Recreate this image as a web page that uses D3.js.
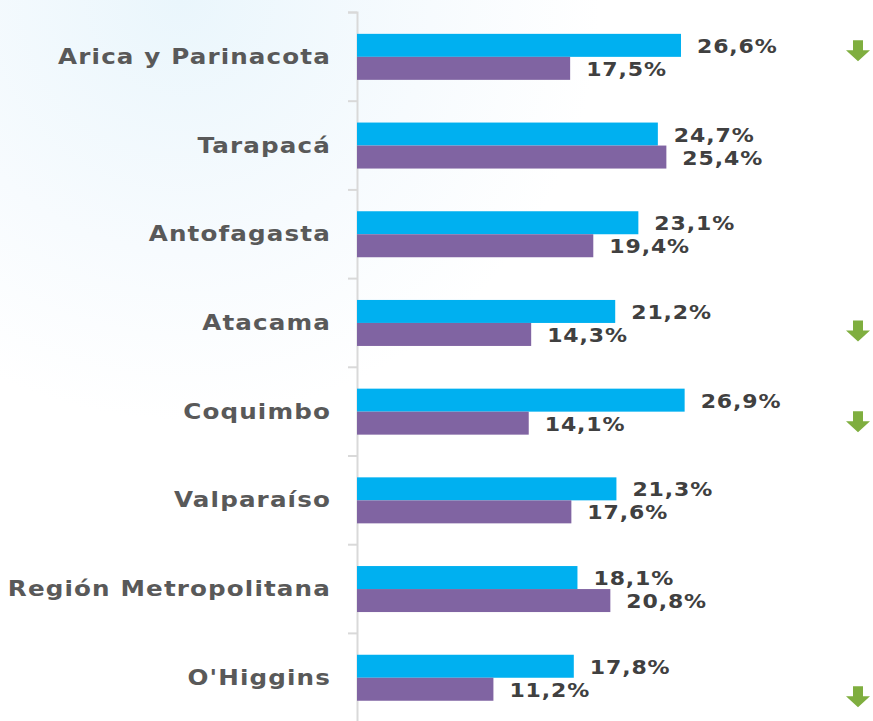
<!DOCTYPE html>
<html>
<head>
<meta charset="utf-8">
<script src="https://cdn.jsdelivr.net/npm/d3@7"></script>
<style>
  html, body { margin: 0; padding: 0; background: #fff; }
  svg { display: block; }
</style>
</head>
<body>
<svg id="chart" width="873" height="721"></svg>
<script>
const categories = ["Arica y Parinacota", "Tarapacá", "Antofagasta", "Atacama", "Coquimbo", "Valparaíso", "Región Metropolitana", "O'Higgins"];
const seriesA = [26.6, 24.7, 23.1, 21.2, 26.9, 21.3, 18.1, 17.8];
const seriesB = [17.5, 25.4, 19.4, 14.3, 14.1, 17.6, 20.8, 11.2];
const downArrow = [true, false, false, true, true, false, false, true];

const svg = d3.select("#chart");
const W = 873, H = 721;

// background glow
const defs = svg.append("defs");
const rg = defs.append("radialGradient").attr("id", "bg")
  .attr("gradientUnits", "userSpaceOnUse")
  .attr("cx", 180).attr("cy", 0).attr("r", 420);
rg.append("stop").attr("offset", "0%").attr("stop-color", "#eaf6fc");
rg.append("stop").attr("offset", "60%").attr("stop-color", "#f7fbfe");
rg.append("stop").attr("offset", "100%").attr("stop-color", "#ffffff");
svg.append("rect").attr("width", W).attr("height", H).attr("fill", "url(#bg)");

const x0 = 357;
const x = d3.scaleLinear().domain([0, 30]).range([x0, x0 + 30 * 12.18]);
const y = d3.scaleBand().domain(categories).range([12, 721.6]).paddingInner(0);
const bh = 23;

// axis
const yb = d3.scaleLinear().domain([0, categories.length]).range([12, 721.6]);
const axis = d3.axisLeft(yb).tickValues(d3.range(0, categories.length + 1)).tickSize(9).tickFormat("");
const ag = svg.append("g").attr("transform", `translate(${x0},0)`).call(axis);
ag.select(".domain").attr("stroke", "#d9d9d9").attr("stroke-width", 2);
ag.selectAll(".tick line").attr("stroke", "#d9d9d9").attr("stroke-width", 2);

const g = svg.append("g");
const rows = categories.map((c, i) => ({ c, a: seriesA[i], b: seriesB[i], arrow: downArrow[i], i }));

g.selectAll(".barA").data(rows).join("rect")
  .attr("x", x0).attr("y", d => y(d.c) + y.bandwidth() / 2 - bh + 0.5)
  .attr("width", d => x(d.a) - x0).attr("height", bh).attr("fill", "#00b0f0");
g.selectAll(".barB").data(rows).join("rect")
  .attr("x", x0).attr("y", d => y(d.c) + y.bandwidth() / 2 + 0.5)
  .attr("width", d => x(d.b) - x0).attr("height", bh).attr("fill", "#8064a2");

const fmt = v => v.toFixed(1).replace(".", ",") + "%";
const lblStyle = sel => sel.attr("font-family", "DejaVu Sans, Verdana, sans-serif")
  .attr("font-weight", "bold").attr("font-size", 20).attr("fill", "#404040")
  .attr("letter-spacing", 0.8)
  .attr("dominant-baseline", "central");

g.selectAll(".lblA").data(rows).join("text").call(lblStyle)
  .attr("transform", d => `translate(${x(d.a) + 16},${y(d.c) + y.bandwidth() / 2 - bh / 2 + 1}) scale(1.1,1)`)
  .text(d => fmt(d.a));
g.selectAll(".lblB").data(rows).join("text").call(lblStyle)
  .attr("transform", d => `translate(${x(d.b) + 16},${y(d.c) + y.bandwidth() / 2 + bh / 2 + 1}) scale(1.1,1)`)
  .text(d => fmt(d.b));

// category labels
g.selectAll(".cat").data(rows).join("text")
  .attr("transform", d => `translate(331,${y(d.c) + y.bandwidth() / 2}) scale(1.12,1)`)
  .attr("text-anchor", "end").attr("dominant-baseline", "central")
  .attr("font-family", "DejaVu Sans, Verdana, sans-serif").attr("font-weight", "bold")
  .attr("font-size", 22).attr("letter-spacing", 1).attr("fill", "#595959")
  .text(d => d.c);

// green arrows
const arrowOffset = [-16, 0, 0, -2, 0, 0, 0, 9];
const arrowPath = "M-5,0 L5,0 L5,10 L12,10 L0,21 L-12,10 L-5,10 Z";
g.selectAll(".arrow").data(rows.filter(d => d.arrow)).join("path")
  .attr("d", arrowPath).attr("fill", "#7fae3f")
  .attr("transform", d => `translate(858,${y(d.c) + y.bandwidth() / 2 + arrowOffset[d.i]})`);
</script>
</body>
</html>
